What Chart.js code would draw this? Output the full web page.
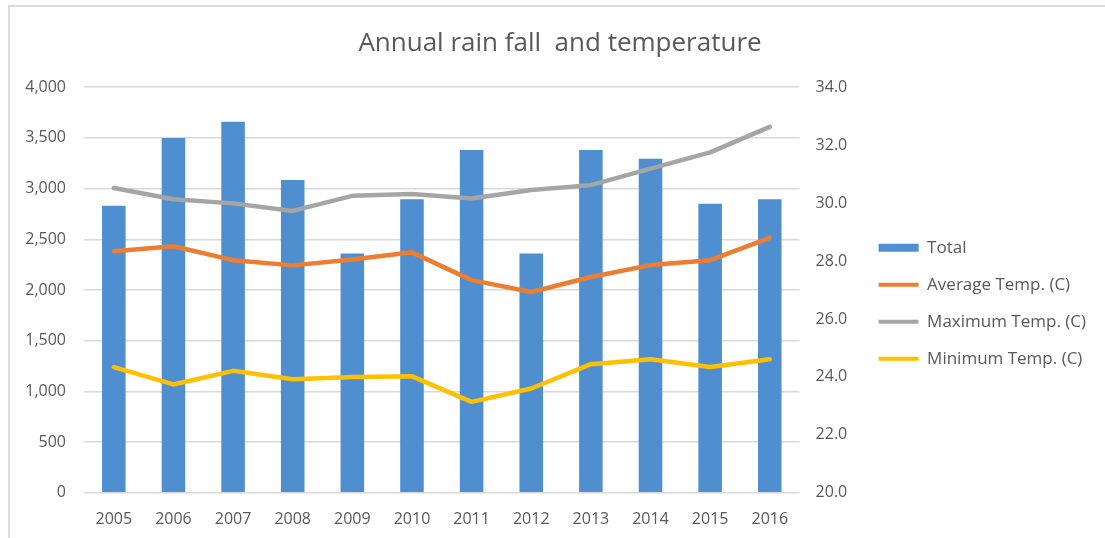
<!DOCTYPE html>
<html>
<head>
<meta charset="utf-8">
<script src="https://cdn.jsdelivr.net/npm/chart.js@4/dist/chart.umd.min.js"></script>
<style>
    html, body { margin: 0; padding: 0; background: #fff; }
    #wrap { position: relative; width: 1105px; height: 538px; overflow: hidden; }
    #frame {
        position: absolute; left: 8px; top: 5px; width: 1110px; height: 540px;
        border-top: 2px solid #dcdcdc; border-left: 2px solid #dcdcdc;
        pointer-events: none;
    }
</style>
</head>
<body>
<div id="wrap">
    <canvas id="rainChart" width="1105" height="538"></canvas>
    <div id="frame"></div>
</div>
<script>
// yearly rainfall (mm) and temperatures (C)
const years = ['2005', '2006', '2007', '2008', '2009', '2010', '2011', '2012', '2013', '2014', '2015', '2016'];
const rainTotal = [2830, 3500, 3660, 3085, 2360, 2895, 3380, 2360, 3380, 3295, 2850, 2895];
const avgTemp = [28.34, 28.51, 28.03, 27.85, 28.05, 28.30, 27.34, 26.93, 27.45, 27.86, 28.03, 28.80];
const maxTemp = [30.52, 30.13, 29.99, 29.73, 30.25, 30.31, 30.16, 30.45, 30.62, 31.19, 31.75, 32.63];
const minTemp = [24.34, 23.74, 24.21, 23.92, 24.00, 24.02, 23.14, 23.60, 24.44, 24.61, 24.34, 24.61];

const textColor = '#595959';
const fontFamily = "'Open Sans', 'Noto Sans', sans-serif";

function lineSet(label, data, color) {
    return {
        type: 'line',
        label: label,
        data: data,
        yAxisID: 'yTemp',
        borderColor: color,
        backgroundColor: color,
        borderWidth: 4.5,
        tension: 0,
        pointRadius: 0,
        borderCapStyle: 'round',
        borderJoinStyle: 'round',
        order: 0
    };
}

new Chart(document.getElementById('rainChart'), {
    data: {
        labels: years,
        datasets: [
            {
                type: 'bar',
                label: 'Total',
                data: rainTotal,
                yAxisID: 'yRain',
                backgroundColor: '#4f8fd0',
                barPercentage: 0.395,
                categoryPercentage: 1,
                order: 1
            },
            lineSet('Average Temp. (C)', avgTemp, '#ED7D31'),
            lineSet('Maximum Temp. (C)', maxTemp, '#A5A5A5'),
            lineSet('Minimum Temp. (C)', minTemp, '#FFC000')
        ]
    },
    options: {
        responsive: false,
        animation: false,
        layout: { padding: { left: 24, right: 9, top: 0, bottom: 0 } },
        plugins: {
            title: {
                display: true,
                text: 'Annual rain fall  and temperature',
                color: textColor,
                font: { family: fontFamily, size: 26, weight: 'normal' },
                padding: { top: 28, bottom: 28 }
            },
            legend: {
                position: 'right',
                fullSize: false,
                maxWidth: 280,
                // empty title only pushes the items down a little
                title: { display: true, text: '', padding: { top: 12, bottom: 0 }, font: { size: 12 } },
                labels: {
                    color: textColor,
                    font: { family: fontFamily, size: 17 },
                    boxWidth: 40,
                    boxHeight: 8,
                    padding: 20,
                    usePointStyle: true,
                    pointStyleWidth: 40,
                    generateLabels: function (chart) {
                        return chart.data.datasets.map((ds, i) => ({
                            text: ds.label,
                            fillStyle: ds.backgroundColor,
                            strokeStyle: ds.type === 'bar' ? 'rgba(0,0,0,0)' : ds.borderColor,
                            lineWidth: ds.type === 'bar' ? 0 : 4,
                            pointStyle: ds.type === 'bar' ? 'rect' : 'line',
                            fontColor: textColor,
                            hidden: !chart.isDatasetVisible(i),
                            datasetIndex: i
                        }));
                    }
                }
            },
            tooltip: { enabled: false }
        },
        scales: {
            x: {
                grid: { display: false, tickLength: 8 },
                border: { display: false },
                ticks: { color: textColor, font: { family: fontFamily, size: 16 }, padding: 9 }
            },
            yRain: {
                position: 'left',
                min: 0,
                max: 4000,
                ticks: { stepSize: 500, color: textColor, font: { family: fontFamily, size: 16 }, padding: 18 },
                grid: { color: '#d9d9d9', lineWidth: 1.5, drawTicks: false },
                border: { display: false },
                // fixed width keeps the plot edge put while the outer padding moves the title
                afterFit: scale => { scale.width = 60; }
            },
            yTemp: {
                position: 'right',
                min: 20,
                max: 34,
                ticks: {
                    stepSize: 2,
                    color: textColor,
                    font: { family: fontFamily, size: 16 },
                    padding: 16,
                    callback: v => v.toFixed(1)
                },
                grid: { display: false, drawTicks: false },
                border: { display: false },
                afterFit: scale => { scale.width = 59; }
            }
        }
    }
});
</script>
</body>
</html>
